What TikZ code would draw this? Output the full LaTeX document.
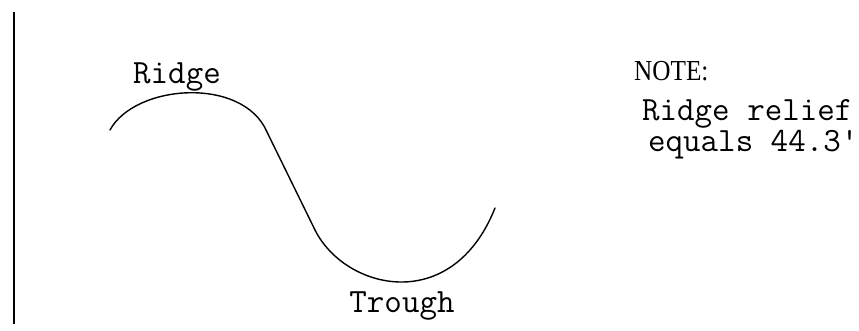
\documentclass[tikz,border=0pt]{standalone}
\usepackage{fontspec}
\newfontfamily\notefont[FakeStretch=0.87]{Liberation Serif}
\tikzset{
  curve/.style={line width=1.4pt, line cap=round},
  edge/.style={line width=1.8pt},
  lbl/.style={font=\ttfamily\fontsize{34}{36}\selectfont, inner sep=0pt, anchor=base},
  notelbl/.style={font=\ttfamily\fontsize{34}{22}\selectfont, inner sep=0pt, align=left},
}
\begin{document}
\begin{tikzpicture}[x=1pt,y=-1pt]
\useasboundingbox (0,0) rectangle (859,330);
% left border line
\coordinate (ltop) at (14,12);
\coordinate (lbot) at (14,324);
\draw[edge] (ltop) -- (lbot);
% wave
\coordinate (w0) at (110,130);
\coordinate (w1) at (267,132);
\coordinate (w2) at (315,230);
\coordinate (w3) at (495,208);
\draw[curve] (w0) .. controls (135,84) and (243,76) .. (w1)
  -- (w2) .. controls (345,290) and (452,316) .. (w3);
% labels
\node[lbl] (ridge) at (177,83) {Ridge};
\node[lbl] (trough) at (402,312) {Trough};
\node[font=\notefont\fontsize{29}{29}\selectfont, inner sep=0pt, anchor=base west] (note) at (634,80) {NOTE:};
\node[notelbl, anchor=base west] (rel) at (642,151) {Ridge relief\\\hspace*{6pt}equals 44.3'};
\end{tikzpicture}
\end{document}
